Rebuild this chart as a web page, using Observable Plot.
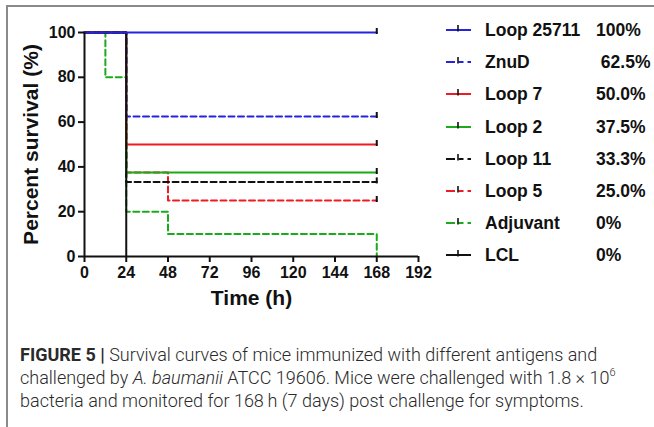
<!DOCTYPE html>
<html>
<head>
<meta charset="utf-8">
<script src="https://cdn.jsdelivr.net/npm/d3@7"></script>
<script src="https://cdn.jsdelivr.net/npm/@observablehq/plot@0.6"></script>
<style>
  html, body { margin: 0; padding: 0; background: #fff; }
  body { width: 654px; height: 427px; position: relative; overflow: hidden; font-family: "Liberation Sans", Arial, sans-serif; }
  #frameL { position: absolute; left: 6px; top: 5px; width: 2px; height: 430px; background: #8a8a8a; }
  #frameT { position: absolute; left: 6px; top: 5px; width: 660px; height: 2px; background: #8a8a8a; }
  #chart { position: absolute; left: 0; top: 0; }
  #legend { position: absolute; left: 440px; top: 0; font-weight: bold; font-size: 17.5px; color: #111; }
  .row { position: absolute; left: 0; height: 20px; width: 214px; }
  .row svg { position: absolute; left: 4px; top: 4px; }
  .row .lab { position: absolute; left: 45px; top: 0; line-height: 20px; white-space: nowrap; }
  .row .pct { position: absolute; left: 156px; top: 0; line-height: 20px; white-space: pre; }
  #caption { position: absolute; left: 20px; top: 343px; width: 640px; white-space: nowrap; font-family: Roboto, "Liberation Sans", sans-serif; font-weight: 300; font-size: 18px; line-height: 23px; color: #2a2a2a; }
  #caption b { font-weight: 700; }
  #caption sup { font-size: 11px; line-height: 0; vertical-align: 0; position: relative; top: -8px; }
</style>
</head>
<body>
<div id="chart"></div>
<div id="legend"></div>
<div id="frameL"></div>
<div id="frameT"></div>
<div id="caption"><b>FIGURE 5 |</b> Survival curves of mice immunized with different antigens and<br>challenged by <i>A. baumanii</i> ATCC 19606. Mice were challenged with 1.8 × 10<sup>6</sup><br>bacteria and monitored for 168&#8201;h (7 days) post challenge for symptoms.</div>
<script>
// ---- data ----
const seriesNames = ["Loop 25711", "ZnuD", "Loop 7", "Loop 2", "Loop 11", "Loop 5", "Adjuvant", "LCL"];
const finalSurvival = ["100%", " 62.5%", "50.0%", "37.5%", "33.3%", "25.0%", "0%", "0%"];
const seriesColors = ["#2323e0", "#2323e0", "#ee1b22", "#19ab19", "#111111", "#ee1b22", "#19ab19", "#111111"];
const seriesDashed = [false, true, false, false, true, true, true, false];
const seriesTimes = [
  [0, 168],
  [0, 24, 168],
  [0, 24, 168],
  [0, 24, 168],
  [0, 24, 168],
  [0, 24, 48, 168],
  [0, 12, 24, 48, 168],
  [0, 24]
];
const seriesSurvival = [
  [100, 100],
  [100, 62.5, 62.5],
  [100, 50, 50],
  [100, 37.5, 37.5],
  [100, 33.3, 33.3],
  [100, 37.5, 25, 25],
  [100, 80, 20, 10, 0],
  [100, 0]
];
const xTicks = [0, 24, 48, 72, 96, 120, 144, 168, 192];
const yTicks = [0, 20, 40, 60, 80, 100];

// ---- build tables ----
const drawOrder = [6, 5, 4, 3, 2, 1, 7, 0];
const lines = drawOrder.map(i => ({
  i,
  pts: seriesTimes[i].map((t, k) => ({t, s: seriesSurvival[i][k]}))
}));
const censored = seriesNames.map((n, i) => {
  const ss = seriesSurvival[i];
  const last = ss[ss.length - 1];
  return {t: seriesTimes[i][seriesTimes[i].length - 1], s: last, alive: last > 0};
}).filter(d => d.alive);

const censorSymbol = {draw(ctx, size) { ctx.moveTo(0, 1.5); ctx.lineTo(0, -4.5); }};

const marks = [];
for (const L of lines) {
  marks.push(Plot.line(L.pts, {
    x: "t", y: "s", curve: "step-after",
    stroke: seriesColors[L.i], strokeWidth: 2,
    strokeDasharray: seriesDashed[L.i] ? "6,3.5" : null
  }));
}
marks.push(Plot.dot(censored, {x: "t", y: "s", symbol: censorSymbol, stroke: "#111", strokeWidth: 2, r: 4}));
marks.push(Plot.ruleX([0], {stroke: "#111", strokeWidth: 2}));
marks.push(Plot.ruleY([0], {stroke: "#111", strokeWidth: 2}));
marks.push(Plot.axisY({ticks: yTicks, tickSize: 6, tickPadding: 3, strokeWidth: 2, stroke: "#111", fontSize: 16, fontWeight: "bold", label: null, fill: "#111"}));
marks.push(Plot.axisX({ticks: xTicks, tickSize: 6, tickPadding: 4, strokeWidth: 2, stroke: "#111", fontSize: 16, fontWeight: "bold", label: null, fill: "#111"}));
marks.push(Plot.text(["Percent survival (%)"], {frameAnchor: "left", textAnchor: "middle", lineAnchor: "middle", rotate: -90, dx: -53, fontSize: 21, fontWeight: "bold", fill: "#111"}));
marks.push(Plot.text(["Time (h)"], {frameAnchor: "bottom", textAnchor: "middle", lineAnchor: "middle", dy: 42, fontSize: 21, fontWeight: "bold", fill: "#111"}));

const chart = Plot.plot({
  width: 654, height: 320,
  marginLeft: 84, marginRight: 236, marginTop: 32, marginBottom: 64,
  style: {fontFamily: "'Liberation Sans', Arial, sans-serif", background: "transparent", overflow: "visible"},
  x: {domain: [0, 192]},
  y: {domain: [0, 100]},
  marks
});
document.getElementById("chart").appendChild(chart);

// ---- legend ----
const legend = document.getElementById("legend");
seriesNames.forEach((name, i) => {
  const row = document.createElement("div");
  row.className = "row";
  row.style.top = (20 + i * 32.2) + "px";
  const dash = seriesDashed[i] ? `stroke-dasharray="9,3.5,5,4"` : "";
  row.innerHTML = `<svg width="30" height="12"><line x1="2" x2="27" y1="6" y2="6" stroke="${seriesColors[i]}" stroke-width="2" ${dash}/><line x1="14" x2="14" y1="1" y2="7.5" stroke="#111" stroke-width="1.6"/></svg><span class="lab">${name}</span><span class="pct">${finalSurvival[i]}</span>`;
  legend.appendChild(row);
});
</script>
</body>
</html>
